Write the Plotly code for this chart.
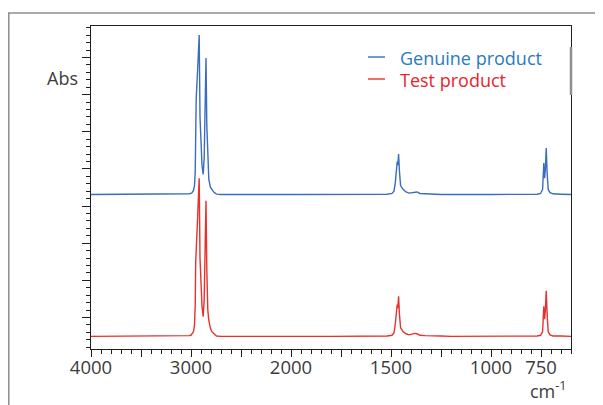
import plotly.graph_objects as go

# ---------------- data ----------------
wavenumber = [4000, 3900, 3850, 3800, 3750, 3700, 3600, 3500, 3400, 3300, 3200, 3100, 3050, 3020,
              3000, 2990, 2975, 2965, 2958, 2953, 2948, 2935, 2925, 2918, 2910, 2900, 2890, 2878,
              2868, 2858, 2850, 2842, 2832, 2822, 2805, 2790, 2770, 2745, 2700, 2600, 2500, 2400,
              2360, 2340, 2300, 2200, 2100, 2000, 1950, 1900, 1800, 1700, 1600, 1520, 1495, 1485,
              1478, 1473, 1469, 1466, 1462, 1458, 1452, 1440, 1425, 1410, 1395, 1380, 1370, 1355,
              1330, 1300, 1250, 1200, 1150, 1100, 1000, 950, 900, 850, 800, 770, 752, 742, 736,
              732, 728, 724, 719, 714, 705, 690, 650, 600]

genuine = [4.31, 4.31, 4.32, 4.31, 4.31, 4.31, 4.31, 4.31, 4.31, 4.31, 4.31, 4.32, 4.32, 4.33,
           4.34, 4.36, 4.42, 4.55, 4.90, 6.30, 6.90, 7.60, 8.20, 8.61, 6.40, 5.60, 5.10, 4.85,
           5.30, 6.80, 7.99, 6.20, 5.10, 4.72, 4.50, 4.43, 4.37, 4.32, 4.31, 4.31, 4.31, 4.31,
           4.32, 4.31, 4.31, 4.31, 4.31, 4.31, 4.31, 4.32, 4.31, 4.31, 4.31, 4.32, 4.34, 4.40,
           4.65, 5.10, 5.20, 5.10, 5.40, 4.95, 4.55, 4.45, 4.38, 4.35, 4.36, 4.39, 4.38, 4.34,
           4.33, 4.32, 4.31, 4.31, 4.32, 4.31, 4.31, 4.31, 4.31, 4.32, 4.31, 4.32, 4.34, 4.45, 5.16,
           4.75, 5.00, 5.56, 4.85, 4.45, 4.36, 4.33, 4.32, 4.31]

test = [0.49, 0.49, 0.50, 0.49, 0.50, 0.49, 0.49, 0.49, 0.49, 0.49, 0.49, 0.50, 0.50, 0.51,
        0.52, 0.55, 0.62, 0.80, 1.30, 2.50, 2.75, 3.60, 4.30, 4.75, 2.60, 1.80, 1.30, 1.02,
        1.50, 3.00, 4.14, 2.30, 1.20, 0.93, 0.70, 0.61, 0.55, 0.50, 0.49, 0.49, 0.49, 0.49,
        0.50, 0.51, 0.49, 0.49, 0.50, 0.49, 0.48, 0.49, 0.49, 0.49, 0.49, 0.50, 0.52, 0.58,
        0.85, 1.25, 1.35, 1.25, 1.57, 1.10, 0.72, 0.62, 0.56, 0.53, 0.55, 0.57, 0.56, 0.52,
        0.51, 0.50, 0.50, 0.49, 0.49, 0.49, 0.48, 0.49, 0.49, 0.50, 0.49, 0.50, 0.52, 0.62, 1.30,
        0.95, 1.20, 1.72, 1.05, 0.62, 0.53, 0.50, 0.50, 0.49]

series_names = ["Genuine product", "Test product"]
left_ticks = [4000, 3500, 3000, 2500, 2000]
left_ticktext = ["4000", "", "3000", "", "2000"]
right_ticks = [1750, 1500, 1250, 1000, 750]
right_ticktext = ["", "1500", "", "1000", "750"]
x_break = 2000
x_left_range = [4000, 2000]
x_right_range = [2000, 600]
y_range = [0.15, 8.85]

# ---------------- styling ----------------
OFF = 8                      # page body margin in the browser
W, H = 603 - OFF, 405 - OFF
L, R, T, B = 91 - OFF, 32, 26 - OFF, 56
PW, PH = W - L - R, H - T - B
SPLIT = 200 / PW
FONT = "Open Sans"
TXT = "#3c3c3c"
AX = "#1e1e1e"
line_colors = ["#3a6cc2", "#e8312c"]
text_colors = ["#2a7ac0", "#e8242b"]
legend_rows = [58, 80]       # reference pixel rows of the legend entries


def pxx(p):
    return (p - OFF - L) / PW


def pxy(p):
    return (T + PH - (p - OFF)) / PH


fig = go.Figure()
for i, (name, vals) in enumerate(zip(series_names, [genuine, test])):
    lx = [w for w in wavenumber if w >= x_break]
    ly = [v for w, v in zip(wavenumber, vals) if w >= x_break]
    rx = [w for w in wavenumber if w <= x_break]
    ry = [v for w, v in zip(wavenumber, vals) if w <= x_break]
    fig.add_trace(go.Scatter(x=lx, y=ly, mode="lines", name=name, legendgroup=name,
                             line=dict(color=line_colors[i], width=1.4),
                             xaxis="x", yaxis="y", showlegend=False))
    fig.add_trace(go.Scatter(x=rx, y=ry, mode="lines", name=name, legendgroup=name,
                             line=dict(color=line_colors[i], width=1.4),
                             xaxis="x2", yaxis="y2", showlegend=False))

common_x = dict(showgrid=False, zeroline=False, showline=True, linecolor=AX, linewidth=1.3,
                mirror=True, ticks="outside", ticklen=7, tickwidth=1.2, tickcolor=AX,
                tickfont=dict(family=FONT, size=18.5, color=TXT), tickmode="array",
                ticklabelstandoff=-5)

annotations = [
    dict(text="Abs", xref="paper", yref="paper", x=pxx(80), y=pxy(78),
         xanchor="right", yanchor="middle", showarrow=False,
         font=dict(family=FONT, size=18, color=TXT)),
    dict(text="cm<sup>-1</sup>", xref="paper", yref="paper", x=pxx(569), y=pxy(390),
         xanchor="right", yanchor="middle", showarrow=False,
         font=dict(family=FONT, size=18, color=TXT)),
]
shapes = [
    dict(type="line", xref="paper", yref="paper", x0=pxx(8.8), x1=pxx(8.8),
         y0=pxy(13), y1=pxy(420), line=dict(color="#8c8c8c", width=1.5)),
    dict(type="line", xref="paper", yref="paper", x0=pxx(8), x1=pxx(620),
         y0=pxy(13), y1=pxy(13), line=dict(color="#8c8c8c", width=1.5)),
    dict(type="line", xref="paper", yref="paper", x0=1, x1=1,
         y0=pxy(47), y1=pxy(95), line=dict(color="#8f8f8f", width=2.5), layer="above"),
]
for i, name in enumerate(series_names):
    row = legend_rows[i]
    annotations.append(dict(text=name, xref="paper", yref="paper", x=pxx(398), y=pxy(row),
                            xanchor="left", yanchor="middle", showarrow=False,
                            font=dict(family=FONT, size=18, color=text_colors[i])))
    shapes.append(dict(type="line", xref="paper", yref="paper", x0=pxx(368), x1=pxx(385),
                       y0=pxy(row - 1), y1=pxy(row - 1),
                       line=dict(color=line_colors[i], width=1.4)))

fig.update_layout(
    width=W, height=H,
    margin=dict(l=L, r=R, t=T, b=B, pad=0),
    paper_bgcolor="white", plot_bgcolor="white",
    font=dict(family=FONT, color=TXT),
    showlegend=False,
    xaxis=dict(**common_x, domain=[0, SPLIT], range=x_left_range, anchor="y",
               tickvals=left_ticks, ticktext=left_ticktext,
               minor=dict(dtick=100, tick0=0, ticks="outside", ticklen=3.5, tickcolor=AX, tickwidth=1.1)),
    xaxis2=dict(**common_x, domain=[SPLIT, 1], range=x_right_range, anchor="y2",
                tickvals=right_ticks, ticktext=right_ticktext,
                minor=dict(dtick=50, tick0=0, ticks="outside", ticklen=3.5, tickcolor=AX, tickwidth=1.1)),
    yaxis=dict(range=y_range, anchor="x", showgrid=False, zeroline=False, showline=True,
               linecolor=AX, linewidth=1.3, mirror=False, ticks="outside", ticklen=8,
               tickwidth=1.2, tickcolor=AX, tick0=1, dtick=1, showticklabels=False,
               minor=dict(dtick=0.2, tick0=0, ticks="outside", ticklen=4, tickcolor=AX, tickwidth=1.1)),
    yaxis2=dict(range=y_range, anchor="x2", matches="y", side="right", showgrid=False,
                zeroline=False, showline=True, linecolor=AX, linewidth=1.3, ticks="",
                showticklabels=False),
    annotations=annotations,
    shapes=shapes,
)

fig.write_html("out.html")
